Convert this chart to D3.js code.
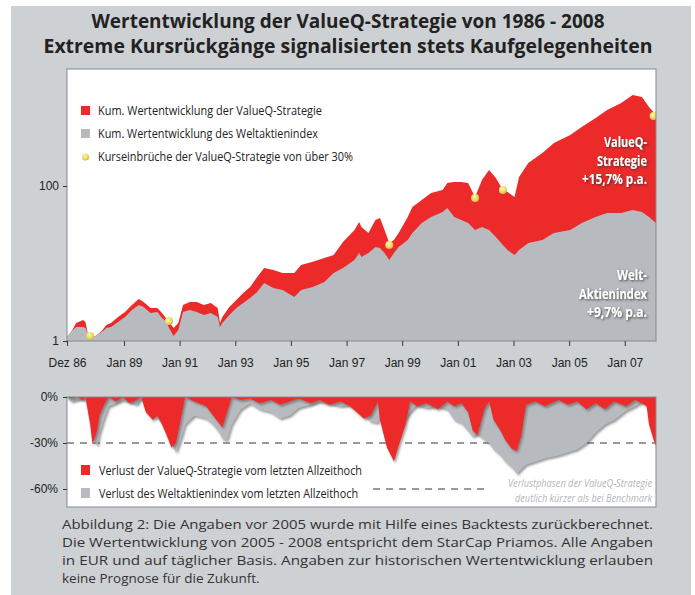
<!DOCTYPE html>
<html>
<head>
<meta charset="utf-8">
<script src="https://cdn.jsdelivr.net/npm/d3@7"></script>
<style>
  body { margin: 0; background: #fff; }
  svg { display: block; font-family: "Open Sans", "Noto Sans", sans-serif; }
</style>
</head>
<body>
<svg id="chart" width="695" height="595"></svg>
<script>
// ---- data ----
const perfDates = ["1986-12","1987-02","1987-04","1987-07","1987-08","1987-09","1987-10","1987-11","1988-01","1988-03",
  "1988-05","1988-07","1988-10","1989-01","1989-04","1989-07","1989-09","1989-12","1990-03","1990-05",
  "1990-07","1990-08","1990-10","1990-12","1991-02","1991-05","1991-08","1991-11","1992-02","1992-05",
  "1992-06","1992-07","1992-10","1993-01","1993-04","1993-07","1993-10","1994-01","1994-05","1994-09",
  "1995-02","1995-05","1995-10","1996-03","1996-07","1996-11","1997-04","1997-06","1997-07","1997-10",
  "1998-01","1998-03","1998-05","1998-07","1998-09","1998-11","1999-03","1999-05","1999-09","2000-01",
  "2000-06","2000-08","2000-11","2001-02","2001-05","2001-08","2001-11","2002-02","2002-05","2002-08",
  "2002-10","2003-01","2003-03","2003-07","2004-01","2004-06","2005-01","2005-06","2005-12","2006-05",
  "2006-11","2007-04","2007-08","2007-11","2008-02"];
const valueQ = [1.13,1.35,1.71,1.87,1.76,1.23,1.13,1.09,1.20,1.35,
  1.61,1.71,2.04,2.37,2.91,3.48,3.19,2.67,2.67,2.30,
  1.92,1.76,1.47,1.71,2.91,3.19,3.19,2.91,3.09,2.67,
  1.71,2.04,2.75,3.38,4.16,4.98,6.70,8.75,8.25,7.54,
  7.54,9.56,10.5,11.8,12.9,18.9,27.1,34.3,29.6,24.8,
  36.4,38.6,27.1,18.4,20.1,24.8,39.8,53.6,66.0,81.2,
  88.8,109,113,113,109,72.1,120,161,127,88.8,
  83.7,72.1,131,198,267,359,455,577,754,956,
  1178,1494,1408,1046,824];
const weltIndex = [1.13,1.35,1.52,1.52,1.47,1.23,1.09,1.09,1.20,1.31,
  1.47,1.52,1.76,2.04,2.51,2.91,2.75,2.30,2.37,1.98,
  1.76,1.47,1.16,1.39,2.37,2.51,2.37,2.17,2.30,2.04,
  1.52,1.71,2.17,2.67,3.09,3.59,4.29,5.60,4.83,4.55,
  3.70,4.55,4.98,5.77,7.54,8.75,11.1,13.7,12.1,13.7,
  16.3,15.8,13.7,11.1,13.7,16.3,20.1,24.8,33.3,39.8,
  46.2,52.0,39.8,36.4,33.3,27.1,29.6,27.1,22.0,17.3,
  14.9,12.9,14.9,18.4,20.1,24.8,27.1,33.3,39.8,44.8,
  44.8,49.0,46.2,39.8,33.3];

// Kurseinbrüche > 30 %
const crashDates = ["1987-10","1990-08","1998-07","2001-08","2002-08","2008-01"];
const crashValues = [1.16, 1.81, 17.3, 70.0, 88.8, 800];

// drawdown from last all-time high, in %
const ddDates = ["1986-12","1987-02","1987-04","1987-07","1987-08","1987-10","1987-11","1988-01","1988-02","1988-04",
  "1988-06","1988-09","1988-12","1989-03","1989-06","1989-08","1989-10","1990-01","1990-03","1990-05",
  "1990-07","1990-09","1990-11","1991-01","1991-03","1991-07","1991-12","1992-03","1992-06","1992-07",
  "1992-09","1992-11","1993-03","1993-07","1993-11","1994-04","1994-08","1994-12","1995-04","1995-09",
  "1996-01","1996-05","1996-10","1997-02","1997-05","1997-08","1997-11","1998-02","1998-03","1998-06",
  "1998-09","1998-11","1999-02","1999-04","1999-07","1999-11","2000-04","2000-08","2000-11","2001-02",
  "2001-05","2001-07","2001-09","2001-12","2002-02","2002-04","2002-07","2002-09","2002-12","2003-02",
  "2003-04","2003-06","2003-10","2004-02","2004-08","2004-12","2005-04","2005-08","2005-12","2006-04",
  "2006-08","2007-01","2007-05","2007-08","2007-10","2007-11","2008-01","2008-02"];
const ddValueQ = [0,-1,0,-2,0,-18,-31,-22,-12,-5,
  0,-3,0,-4,-2,0,-10,-15,-12,-18,
  -25,-33,-30,-15,0,-3,-6,-12,-18,-20,
  -10,0,-2,-1,-4,-2,-5,-3,-1,-4,
  -2,-5,-3,-6,-10,-14,-12,-3,-15,-33,
  -42,-32,-18,-3,-6,-4,-8,-3,-6,-4,
  -10,-22,-25,-8,-3,-15,-22,-28,-34,-35,
  -25,-5,-3,-6,-2,-5,-3,-8,-4,-8,
  -3,-6,-2,-4,-6,-18,-28,-32];
const ddWelt = [0,-3,-2,-1,-2,-15,-26,-32,-24,-14,
  -6,-4,-2,-3,-5,-1,-5,-10,-14,-15,
  -22,-30,-36,-28,-18,-12,-14,-18,-24,-27,
  -28,-18,-8,-4,-8,-10,-14,-12,-7,-5,
  -3,-4,-6,-5,-8,-12,-16,-17,-12,-18,
  -22,-20,-14,-10,-5,-7,-6,-8,-15,-17,
  -22,-26,-24,-28,-30,-34,-38,-42,-46,-50,
  -47,-44,-42,-40,-38,-36,-34,-30,-23,-18,
  -15,-9,-6,-3,-2,-4,-6,-10];

const xTickDates = ["1986-12","1989-01-01","1991-01-01","1993-01-01","1995-01-01","1997-01-01",
  "1999-01-01","2001-01-01","2003-01-01","2005-01-01","2007-01-01"];
const xTickLabels = ["Dez 86","Jan 89","Jan 91","Jan 93","Jan 95","Jan 97","Jan 99","Jan 01","Jan 03","Jan 05","Jan 07"];
const yTicksTop = [1, 100];
const yTicksBottom = [0, -30, -60];

const titleLines = ["Wertentwicklung der ValueQ-Strategie von 1986 - 2008",
  "Extreme Kursrückgänge signalisierten stets Kaufgelegenheiten"];
const topLegend = ["Kum. Wertentwicklung der ValueQ-Strategie",
  "Kum. Wertentwicklung des Weltaktienindex",
  "Kurseinbrüche der ValueQ-Strategie von über 30%"];
const bottomLegend = ["Verlust der ValueQ-Strategie vom letzten Allzeithoch",
  "Verlust des Weltaktienindex vom letzten Allzeithoch"];
const labelValueQ = ["ValueQ-", "Strategie", "+15,7% p.a."];
const labelWelt = ["Welt-", "Aktienindex", "+9,7% p.a."];
const noteLines = ["Verlustphasen der ValueQ-Strategie", "deutlich kürzer als bei Benchmark"];
const captionLines = [
  "Abbildung 2: Die Angaben vor 2005 wurde mit Hilfe eines Backtests zurückberechnet.",
  "Die Wertentwicklung von 2005 - 2008 entspricht dem StarCap Priamos. Alle Angaben",
  "in EUR und auf täglicher Basis. Angaben zur historischen Wertentwicklung erlauben",
  "keine Prognose für die Zukunft."];
// dashed reference lines in the drawdown panel
const refLevels = [-30, -60];
const refFrom = ["1986-12", "1997-12"];
const refTo = ["2008-02", "2002-02"];

// ---- helpers ----
const RED = "#ec2a2b", GREY = "#b7babe", PANEL = "#cdd1d4";
function toDate(s) {
  const p = s.split("-");
  return new Date(+p[0], +p[1] - 1, p[2] ? +p[2] : 15);
}
function fit(sel, w, mode) {
  sel.attr("textLength", w).attr("lengthAdjust", mode || "spacingAndGlyphs");
}

const perf = perfDates.map((d, i) => ({ date: toDate(d), q: valueQ[i], w: weltIndex[i] }));
const dd = ddDates.map((d, i) => ({ date: toDate(d), q: ddValueQ[i], w: ddWelt[i] }));
const crashes = crashDates.map((d, i) => ({ date: toDate(d), v: crashValues[i] }));

const svg = d3.select("#chart");
const defs = svg.append("defs");

const shadow = defs.append("filter").attr("id", "shadow")
  .attr("x", "-5%").attr("y", "-5%").attr("width", "110%").attr("height", "130%");
shadow.append("feDropShadow").attr("dx", 1.5).attr("dy", 2).attr("stdDeviation", 1.2)
  .attr("flood-color", "#555").attr("flood-opacity", 0.6);

const txtShadow = defs.append("filter").attr("id", "txtShadow")
  .attr("x", "-10%").attr("y", "-20%").attr("width", "130%").attr("height", "160%");
txtShadow.append("feDropShadow").attr("dx", 1.2).attr("dy", 1.2).attr("stdDeviation", 0.9)
  .attr("flood-color", "#333").attr("flood-opacity", 0.85);

const soft = defs.append("filter").attr("id", "soft");
soft.append("feGaussianBlur").attr("stdDeviation", 0.5);

const dotGrad = defs.append("radialGradient").attr("id", "dotGrad")
  .attr("cx", "40%").attr("cy", "35%").attr("r", "65%");
dotGrad.append("stop").attr("offset", "0%").attr("stop-color", "#fdf7b0");
dotGrad.append("stop").attr("offset", "70%").attr("stop-color", "#e6d85a");
dotGrad.append("stop").attr("offset", "100%").attr("stop-color", "#c9b84a");

// background panel
svg.append("rect").attr("x", 11).attr("y", 6).attr("width", 680).attr("height", 595).attr("fill", PANEL);

// title
svg.selectAll(".title").data(titleLines).join("text")
  .attr("class", "title")
  .attr("x", 348).attr("y", (d, i) => 28 + i * 25)
  .attr("text-anchor", "middle")
  .attr("font-size", 20).attr("font-weight", 700).attr("fill", "#222")
  .text(d => d)
  .each(function (d, i) { fit(d3.select(this), [513, 609][i]); });

// ---- top chart ----
const topBox = { x0: 67, x1: 656, y0: 69, y1: 341 };
const x = d3.scaleTime().domain([toDate("1986-12"), toDate("2008-02")]).range([topBox.x0, topBox.x1]);
const y = d3.scaleLog().domain([1, 3234]).range([topBox.y1, topBox.y0]);

defs.append("clipPath").attr("id", "clipTop").append("rect")
  .attr("x", topBox.x0).attr("y", topBox.y0).attr("width", topBox.x1 - topBox.x0).attr("height", topBox.y1 - topBox.y0);

svg.append("rect").attr("x", topBox.x0).attr("y", topBox.y0)
  .attr("width", topBox.x1 - topBox.x0).attr("height", topBox.y1 - topBox.y0).attr("fill", "#fff");

const gTop = svg.append("g").attr("clip-path", "url(#clipTop)");
gTop.append("path").datum(perf)
  .attr("fill", RED).attr("filter", "url(#soft)")
  .attr("d", d3.area().x(d => x(d.date)).y0(topBox.y1 + 2).y1(d => y(d.q)));
gTop.append("path").datum(perf)
  .attr("fill", GREY).attr("filter", "url(#soft)")
  .attr("d", d3.area().x(d => x(d.date)).y0(topBox.y1 + 2).y1(d => y(d.w)));

gTop.selectAll(".crash").data(crashes).join("circle")
  .attr("class", "crash")
  .attr("cx", d => x(d.date)).attr("cy", d => y(d.v)).attr("r", 4)
  .attr("fill", "url(#dotGrad)");

// end labels
const endLabel = (lines, yStart, widths) => {
  svg.append("g").selectAll("text").data(lines).join("text")
    .attr("x", 647).attr("y", (d, i) => yStart + i * 18.5)
    .attr("text-anchor", "end").attr("font-size", 14).attr("font-weight", 700)
    .attr("fill", "#fff").attr("filter", "url(#txtShadow)")
    .text(d => d)
    .each(function (d, i) { fit(d3.select(this), widths[i]); });
};
endLabel(labelValueQ, 147, [43, 50, 65]);
endLabel(labelWelt, 280, [30, 68, 60]);

// top legend
const legTop = svg.append("g").selectAll("g").data(topLegend).join("g")
  .attr("transform", (d, i) => `translate(81,${115 + i * 23})`);
legTop.filter((d, i) => i < 2).append("rect")
  .attr("x", 0).attr("y", -9).attr("width", 9).attr("height", 9)
  .attr("fill", (d, i) => [RED, GREY][i]);
legTop.filter((d, i) => i === 2).append("circle")
  .attr("cx", 4.5).attr("cy", -4).attr("r", 3.6).attr("fill", "url(#dotGrad)");
legTop.append("text").attr("x", 17).attr("y", 0)
  .attr("font-size", 13).attr("fill", "#222").text(d => d)
  .each(function (d, i) { fit(d3.select(this), [224, 220, 255][i]); });

svg.append("rect").attr("x", topBox.x0).attr("y", topBox.y0)
  .attr("width", topBox.x1 - topBox.x0).attr("height", topBox.y1 - topBox.y0)
  .attr("fill", "none").attr("stroke", "#85888b").attr("stroke-width", 1);

// axes top
const xAxis = svg.append("g").attr("transform", `translate(0,${topBox.y1})`)
  .call(d3.axisBottom(x).tickValues(xTickDates.map(toDate))
    .tickFormat((d, i) => xTickLabels[i]).tickSize(5).tickPadding(12));
xAxis.select(".domain").remove();
xAxis.selectAll("text").attr("font-size", 12).attr("fill", "#222").attr("font-family", null);
xAxis.selectAll("line").attr("stroke", "#333");

const yAxis = svg.append("g").attr("transform", `translate(${topBox.x0},0)`)
  .call(d3.axisLeft(y).tickValues(yTicksTop).tickFormat(d3.format("d")).tickSize(4).tickPadding(4));
yAxis.select(".domain").remove();
yAxis.selectAll("text").attr("font-size", 12).attr("fill", "#222").attr("font-family", null);
yAxis.selectAll("line").attr("stroke", "#333");

// ---- bottom chart (drawdowns) ----
const botBox = { x0: 67, x1: 656, y0: 397, y1: 507 };
const yb = d3.scaleLinear().domain([0, -60]).range([botBox.y0, 489]);

defs.append("clipPath").attr("id", "clipBot").append("rect")
  .attr("x", botBox.x0).attr("y", botBox.y0).attr("width", botBox.x1 - botBox.x0).attr("height", botBox.y1 - botBox.y0);

svg.append("rect").attr("x", botBox.x0).attr("y", botBox.y0)
  .attr("width", botBox.x1 - botBox.x0).attr("height", botBox.y1 - botBox.y0).attr("fill", "#fff");

const gBot = svg.append("g").attr("clip-path", "url(#clipBot)");
gBot.selectAll(".ref").data(refLevels).join("line")
  .attr("class", "ref")
  .attr("x1", (d, i) => x(toDate(refFrom[i]))).attr("x2", (d, i) => x(toDate(refTo[i])))
  .attr("y1", d => yb(d)).attr("y2", d => yb(d))
  .attr("stroke", "#333").attr("stroke-width", 1).attr("stroke-dasharray", "7,6");

gBot.append("path").datum(dd)
  .attr("fill", GREY).attr("filter", "url(#shadow)")
  .attr("d", d3.area().x(d => x(d.date)).y0(botBox.y0 - 2).y1(d => yb(d.w)));
gBot.append("path").datum(dd)
  .attr("fill", RED).attr("filter", "url(#shadow)")
  .attr("d", d3.area().x(d => x(d.date)).y0(botBox.y0 - 2).y1(d => yb(d.q)));

// bottom legend
const legBot = svg.append("g").selectAll("g").data(bottomLegend).join("g")
  .attr("transform", (d, i) => `translate(81,${475 + i * 23})`);
legBot.append("rect").attr("x", 0).attr("y", -10).attr("width", 9).attr("height", 10)
  .attr("fill", (d, i) => [RED, GREY][i]);
legBot.append("text").attr("x", 18).attr("y", 0)
  .attr("font-size", 13).attr("fill", "#222").text(d => d)
  .each(function (d, i) { fit(d3.select(this), [263, 259][i]); });

// note
svg.append("g").selectAll("text").data(noteLines).join("text")
  .attr("x", 652).attr("y", (d, i) => 487 + i * 15)
  .attr("text-anchor", "end").attr("font-size", 11.5).attr("font-style", "italic")
  .attr("fill", "#b3b7bb").text(d => d)
  .each(function (d, i) { fit(d3.select(this), [144, 137][i]); });

svg.append("rect").attr("x", botBox.x0).attr("y", botBox.y0)
  .attr("width", botBox.x1 - botBox.x0).attr("height", botBox.y1 - botBox.y0)
  .attr("fill", "none").attr("stroke", "#85888b").attr("stroke-width", 1);

const ybAxis = svg.append("g").attr("transform", `translate(${botBox.x0},0)`)
  .call(d3.axisLeft(yb).tickValues(yTicksBottom).tickFormat(d => d + "%").tickSize(4).tickPadding(5));
ybAxis.select(".domain").remove();
ybAxis.selectAll("text").attr("font-size", 12).attr("fill", "#222").attr("font-family", null);
ybAxis.selectAll("line").attr("stroke", "#333");

// caption
svg.append("g").selectAll("text").data(captionLines).join("text")
  .attr("x", 62).attr("y", (d, i) => 529 + i * 18)
  .attr("font-size", 13.5).attr("fill", "#333").text(d => d)
  .each(function (d, i) { if (i < 3) fit(d3.select(this), 591, "spacingAndGlyphs"); });
</script>
</body>
</html>
